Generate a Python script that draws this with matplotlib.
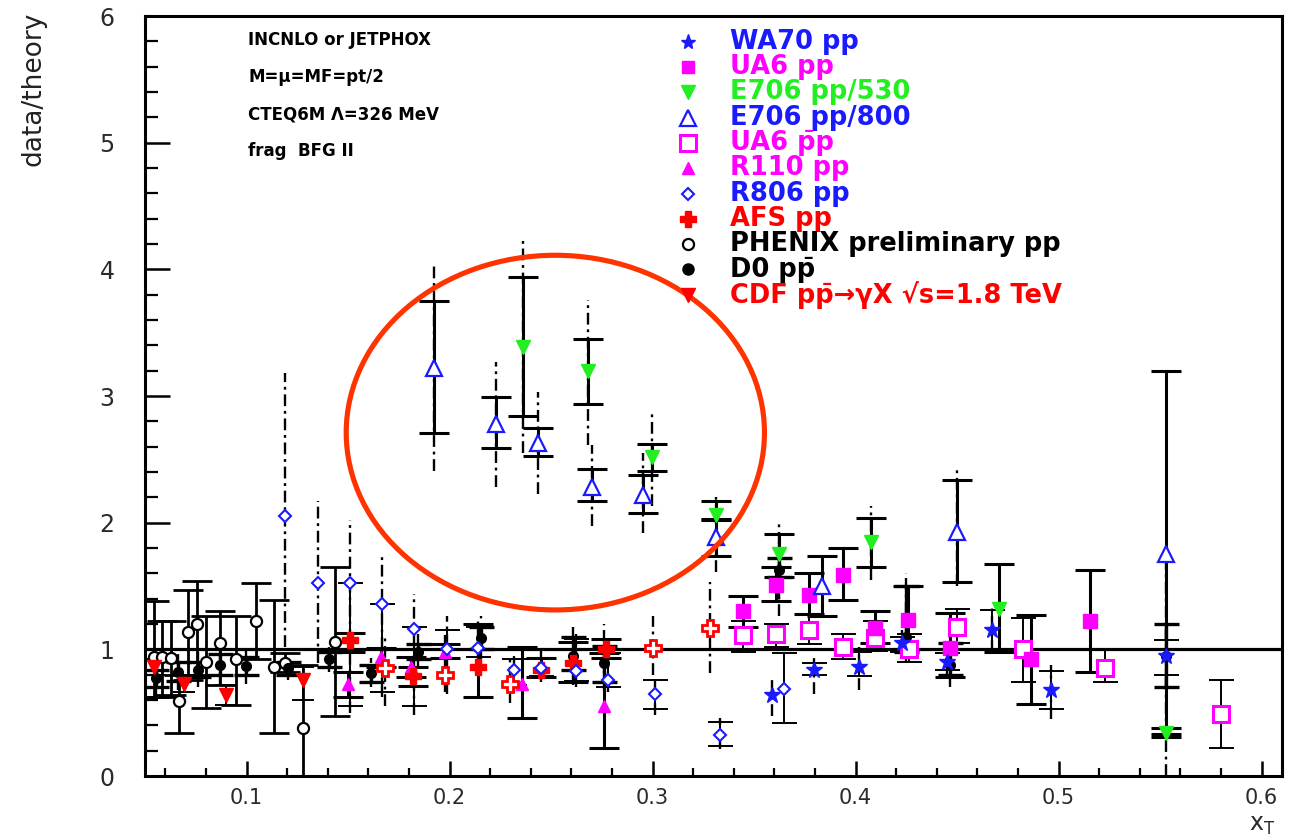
import numpy as np
import matplotlib
matplotlib.use("Agg")
import matplotlib.pyplot as plt
from matplotlib.patches import Ellipse
from matplotlib.ticker import MultipleLocator, FixedLocator

nan = np.nan

# ---------------- data (x_T, data/theory, inner bar lo/hi, outer dash-dot bar lo/hi) ----------------
e800_x = [0.1925, 0.223, 0.2438, 0.270, 0.2955, 0.331, 0.3833, 0.4499, 0.553]
e800_y = [3.22, 2.78, 2.63, 2.28, 2.22, 1.89, 1.50, 1.93, 1.75]
e800_lo = [2.71, 2.59, 2.53, 2.17, 2.08, 1.74, 1.26, 1.53, 0.33]
e800_hi = [3.75, 2.99, 2.75, 2.42, 2.38, 2.03, 1.74, 2.34, 3.20]
e800_olo = [2.41, 2.28, 2.23, 1.97, 1.92, nan, nan, 1.50, nan]
e800_ohi = [4.03, 3.27, 3.03, 2.61, 2.55, nan, nan, 2.42, nan]

e530_x = [0.236, 0.268, 0.2998, 0.331, 0.3625, 0.4074, 0.4708, 0.553]
e530_y = [3.39, 3.20, 2.52, 2.06, 1.75, 1.85, 1.32, 0.34]
e530_lo = [2.84, 2.94, 2.41, 2.02, 1.57, 1.65, 0.98, 0.31]
e530_hi = [3.94, 3.45, 2.62, 2.17, 1.91, 2.04, 1.67, 0.38]
e530_olo = [2.55, 2.61, 2.13, 1.61, 1.26, 1.55, nan, 0.00]
e530_ohi = [4.23, 3.76, 2.88, 2.20, 2.00, 2.13, nan, 0.40]

wa70_x = [0.3586, 0.3793, 0.4015, 0.423, 0.445, 0.4673, 0.4964, 0.553]
wa70_y = [0.64, 0.84, 0.86, 1.05, 0.90, 1.15, 0.68, 0.95]
wa70_lo = [nan, 0.80, 0.79, 0.98, 0.84, 1.00, 0.53, 0.80]
wa70_hi = [nan, 0.89, 0.98, 1.10, 0.97, 1.31, 0.83, 1.07]
wa70_olo = [0.47, 0.65, 0.68, 0.93, 0.78, 0.98, 0.45, 0.70]
wa70_ohi = [0.77, 0.95, 1.02, 1.15, 1.05, 1.35, 0.88, 1.20]

ua6pp_x = [0.3443, 0.3608, 0.3772, 0.3936, 0.4094, 0.426, 0.4465, 0.4863, 0.5154]
ua6pp_y = [1.30, 1.51, 1.43, 1.59, 1.17, 1.23, 1.01, 0.92, 1.22]
ua6pp_lo = [1.18, 1.38, 1.28, 1.39, 1.05, 1.00, 0.78, 0.57, 0.82]
ua6pp_hi = [1.42, 1.65, 1.60, 1.80, 1.30, 1.50, 1.29, 1.27, 1.63]

ua6pbp_x = [0.3446, 0.3608, 0.3772, 0.3936, 0.4094, 0.4265, 0.4498, 0.4823, 0.5228, 0.580]
ua6pbp_y = [1.11, 1.12, 1.15, 1.02, 1.09, 1.00, 1.18, 1.00, 0.85, 0.49]
ua6pbp_lo = [0.98, 1.02, 1.04, 0.92, 0.99, 0.90, 1.05, 0.74, 0.74, 0.22]
ua6pbp_hi = [1.22, 1.20, 1.28, 1.12, 1.22, 1.12, 1.32, 1.25, 1.00, 0.76]

r110_x = [0.150, 0.1664, 0.181, 0.198, 0.2357, 0.2761]
r110_y = [0.73, 0.94, 0.86, 0.98, 0.73, 0.55]
r110_lo = [0.62, 0.86, 0.78, 0.93, 0.46, 0.22]
r110_hi = [0.82, 1.01, 0.94, 1.04, 1.02, 0.97]

r806_x = [0.1189, 0.1352, 0.1508, 0.1669, 0.1825, 0.1985, 0.2139, 0.2315, 0.245, 0.2625, 0.278, 0.301, 0.333, 0.3649]
r806_y = [2.05, 1.52, 1.52, 1.36, 1.16, 1.00, 1.01, 0.84, 0.85, 0.83, 0.76, 0.65, 0.32, 0.69]
r806_lo = [nan, nan, 0.55, 0.66, 0.55, 0.93, 0.94, 0.72, 0.79, 0.75, 0.70, 0.53, 0.24, 0.42]
r806_hi = [nan, nan, 1.17, 1.22, 1.18, 1.15, 1.18, 0.92, 0.93, 1.08, 0.97, 0.76, 0.43, 0.97]
r806_olo = [1.02, 0.89, 0.50, 0.62, 0.48, 0.65, 0.88, 0.66, 0.74, 0.70, 0.66, 0.48, 0.21, nan]
r806_ohi = [3.18, 2.17, 2.02, 1.73, 1.44, 1.26, 1.22, 0.95, 0.99, 1.12, 1.06, 0.80, 0.46, nan]

afs_x = [0.1508, 0.182, 0.214, 0.245, 0.2606, 0.2772]
afs_y = [1.07, 0.79, 0.86, 0.84, 0.89, 1.00]
afs_lo = [0.98, 0.71, 0.62, 0.78, 0.74, 0.93]
afs_hi = [1.13, 0.86, 1.20, 0.93, 1.06, 1.08]

afs2_x = [0.168, 0.198, 0.2296, 0.300, 0.3285]
afs2_y = [0.85, 0.80, 0.73, 1.01, 1.17]
afs2_olo = [0.55, 0.66, 0.58, 0.80, 0.81]
afs2_ohi = [1.10, 1.11, 0.93, 1.26, 1.53]

phenix_x = [0.0545, 0.0585, 0.0629, 0.0667, 0.0711, 0.0756, 0.0800, 0.0867, 0.0949, 0.1048, 0.1137, 0.1188, 0.1278, 0.1437]
phenix_y = [0.94, 0.94, 0.93, 0.59, 1.14, 1.20, 0.90, 1.05, 0.92, 1.22, 0.86, 0.89, 0.38, 1.06]
phenix_lo = [0.62, 0.62, 0.64, 0.34, 0.76, 0.80, 0.54, 0.72, 0.56, 0.92, 0.34, 0.82, 0.00, 0.47]
phenix_hi = [1.38, 1.22, 1.22, 0.80, 1.47, 1.54, 1.26, 1.30, 1.26, 1.52, 1.39, 0.97, 0.88, 1.65]

d0_x = [0.0555, 0.0662, 0.0760, 0.0867, 0.0995, 0.1204, 0.1406, 0.1611, 0.1844, 0.2157, 0.2609, 0.2763, 0.3625, 0.4250, 0.4465, 0.5530]
d0_y = [0.77, 0.82, 0.84, 0.88, 0.87, 0.85, 0.92, 0.81, 0.98, 1.09, 0.95, 0.89, 1.63, 1.10, 0.88, 0.95]
d0_lo = [0.70, 0.75, 0.78, 0.80, 0.80, 0.80, 0.86, 0.74, 0.92, 1.00, 0.84, 0.74, 1.57, 0.98, 0.80, 0.70]
d0_hi = [0.84, 0.90, 0.90, 0.96, 0.94, 0.90, 0.98, 0.88, 1.04, 1.18, 1.10, 1.03, 1.72, 1.50, 1.05, 1.20]
d0_olo = [0.62, 0.68, 0.70, 0.73, 0.73, 0.76, 0.82, 0.70, 0.85, 0.92, 0.72, 0.68, 1.40, 0.90, 0.70, 0.30]
d0_ohi = [0.90, 0.96, 0.98, 1.04, 1.00, 0.94, 1.02, 0.93, 1.12, 1.26, 1.18, 1.20, 1.85, 1.60, 1.15, 1.70]

cdf_x = [0.0545, 0.0694, 0.0900, 0.1278]
cdf_y = [0.86, 0.73, 0.64, 0.76]
cdf_lo = [0.80, 0.66, 0.56, 0.60]
cdf_hi = [0.92, 0.80, 0.72, 0.86]

x_ticks = [0.1, 0.2, 0.3, 0.4, 0.5, 0.6]
x_tick_labels = ["0.1", "0.2", "0.3", "0.4", "0.5", "0.6"]
y_ticks = [0, 1, 2, 3, 4, 5, 6]
y_tick_labels = ["0", "1", "2", "3", "4", "5", "6"]

info_lines = ["INCNLO or JETPHOX", "M=\u03bc=MF=pt/2", "CTEQ6M \u039b=326 MeV", "frag  BFG II"]

BLUE = "#1a1aff"
MAG = "#ff00ff"
GREEN = "#22ee22"
RED = "#ff0000"

# ---------------- figure ----------------
W, H = 1294, 839
fig = plt.figure(figsize=(W / 100, H / 100), dpi=100)
ax = fig.add_axes([145 / W, (H - 776) / H, (1282 - 145) / W, (776 - 16) / H])
ax.set_xlim(0.05, 0.61)
ax.set_ylim(0, 6)


def inner_bars(x, y, lo, hi, lw=2.2, cap=11):
    x, y, lo, hi = map(lambda a: np.asarray(a, float), (x, y, lo, hi))
    m = ~np.isnan(lo)
    ax.errorbar(x[m], y[m], yerr=[np.maximum(y[m] - lo[m], 0), np.maximum(hi[m] - y[m], 0)],
                fmt="none", ecolor="black", elinewidth=lw, capsize=cap, capthick=lw, zorder=2)


def outer_bars(x, lo, hi, lw=1.7):
    x, lo, hi = map(lambda a: np.asarray(a, float), (x, lo, hi))
    m = ~np.isnan(lo)
    ax.vlines(x[m], lo[m], hi[m], colors="black", linewidth=lw,
              linestyles=[(0, (5, 2, 1.2, 2))], zorder=2)


ax.axhline(1.0, color="black", lw=2.3, zorder=1.5)

# error bars
outer_bars(e800_x, e800_olo, e800_ohi)
inner_bars(e800_x, e800_y, e800_lo, e800_hi)
outer_bars(e530_x, e530_olo, e530_ohi)
inner_bars(e530_x, e530_y, e530_lo, e530_hi)
outer_bars(wa70_x, wa70_olo, wa70_ohi)
inner_bars(wa70_x, wa70_y, wa70_lo, wa70_hi, lw=1.4, cap=9)
inner_bars(ua6pp_x, ua6pp_y, ua6pp_lo, ua6pp_hi)
inner_bars(ua6pbp_x, ua6pbp_y, ua6pbp_lo, ua6pbp_hi, lw=1.4, cap=9)
inner_bars(r110_x, r110_y, r110_lo, r110_hi)
outer_bars(r806_x, r806_olo, r806_ohi)
inner_bars(r806_x, r806_y, r806_lo, r806_hi, lw=1.4, cap=9)
inner_bars(afs_x, afs_y, afs_lo, afs_hi)
outer_bars(afs2_x, afs2_olo, afs2_ohi)
inner_bars(phenix_x, phenix_y, phenix_lo, phenix_hi, lw=2.0, cap=11)
outer_bars(d0_x, d0_olo, d0_ohi)
inner_bars(d0_x, d0_y, d0_lo, d0_hi, lw=2.4, cap=9)
inner_bars(cdf_x, cdf_y, cdf_lo, cdf_hi, lw=1.4, cap=8)

# markers
mk = dict(ls="none", zorder=4)
ax.plot(phenix_x, phenix_y, marker="o", ms=8, mfc="white", mec="black", mew=1.6, **mk)
ax.plot(d0_x, d0_y, marker="o", ms=7, color="black", **mk)
ax.plot(cdf_x, cdf_y, marker="v", ms=10, color=RED, **mk)
ax.plot(r110_x, r110_y, marker="^", ms=9, color=MAG, **mk)
ax.plot(afs_x, afs_y, marker="P", ms=11, color=RED, **mk)
ax.plot(afs2_x, afs2_y, marker="P", ms=11, mfc="white", mec=RED, mew=2, **mk)
ax.plot(r806_x, r806_y, marker="D", ms=6, mfc="white", mec=BLUE, mew=1.5, **mk)
ax.plot(ua6pbp_x, ua6pbp_y, marker="s", ms=12, mfc="white", mec=MAG, mew=2.2, **mk)
ax.plot(ua6pp_x, ua6pp_y, marker="s", ms=10, color=MAG, **mk)
ax.plot(wa70_x, wa70_y, marker="*", ms=12, color=BLUE, **mk)
ax.plot(e530_x, e530_y, marker="v", ms=10, color=GREEN, **mk)
ax.plot(e800_x, e800_y, marker="^", ms=11, mfc="white", mec=BLUE, mew=1.6, **mk)

# highlight ellipse
ax.add_patch(Ellipse((0.2521, 2.711), 0.206, 2.80, fill=False, ec="#ff3300", lw=3.7, zorder=5))

# axes styling
for s in ax.spines.values():
    s.set_linewidth(2.2)
ax.xaxis.set_major_locator(FixedLocator(x_ticks))
ax.xaxis.set_minor_locator(MultipleLocator(0.02))
ax.set_xticklabels(x_tick_labels)
ax.yaxis.set_major_locator(FixedLocator(y_ticks))
ax.yaxis.set_minor_locator(MultipleLocator(0.2))
ax.set_yticklabels(y_tick_labels)
ax.tick_params(axis="x", which="major", direction="in", length=11, width=1.8,
               labelsize=15, pad=9, labelcolor="#2a2a2a")
ax.tick_params(axis="x", which="minor", direction="in", length=5.5, width=1.6)
ax.tick_params(axis="y", which="major", direction="in", length=18, width=1.8,
               labelsize=17, pad=22, labelcolor="#2a2a2a")
ax.tick_params(axis="y", which="minor", direction="in", length=9.5, width=1.6)

fig.text(34 / W, 1 - 12 / H, "data/theory", rotation=90, ha="center", va="top",
         fontsize=19, color="#222222")
fig.text(1262 / W, 1 - 825 / H, r"$\mathsf{x}_{\mathsf{T}}$", ha="center", va="center",
         fontsize=17, color="#2a2a2a")

# info text
for i, line in enumerate(info_lines):
    ax.text(0.0906, 0.968 - i * 0.0487, line, transform=ax.transAxes, fontsize=12,
            fontweight="bold", ha="left", va="center", color="black")

# legend (drawn manually, ROOT-style)
legend_entries = [
    ("WA70 pp", dict(marker="*", ms=11, color=BLUE), BLUE),
    ("UA6 pp", dict(marker="s", ms=9, color=MAG), MAG),
    ("E706 pp/530", dict(marker="v", ms=10, color=GREEN), GREEN),
    ("E706 pp/800", dict(marker="^", ms=11, mfc="white", mec=BLUE, mew=1.6), BLUE),
    ("UA6 p\u0304p", dict(marker="s", ms=12, mfc="white", mec=MAG, mew=2.2), MAG),
    ("R110 pp", dict(marker="^", ms=9, color=MAG), MAG),
    ("R806 pp", dict(marker="D", ms=6, mfc="white", mec=BLUE, mew=1.5), BLUE),
    ("AFS pp", dict(marker="P", ms=12, color=RED), RED),
    ("PHENIX preliminary pp", dict(marker="o", ms=8, mfc="white", mec="black", mew=1.6), "black"),
    ("D0 pp\u0304", dict(marker="o", ms=8, color="black"), "black"),
    ("CDF pp\u0304\u2192\u03b3X \u221as=1.8 TeV", dict(marker="v", ms=10, color=RED), RED),
]
lx_m, lx_t, ly0, ldy = 0.4776, 0.5145, 0.9662, 0.0333
for i, (lab, mkw, col) in enumerate(legend_entries):
    yy = ly0 - i * ldy
    ax.plot([lx_m], [yy], transform=ax.transAxes, ls="none", clip_on=False, zorder=6, **mkw)
    ax.text(lx_t, yy, lab, transform=ax.transAxes, fontsize=18.5, fontweight="bold",
            color=col, ha="left", va="center", zorder=6)

fig.savefig("out.png", dpi=100)
